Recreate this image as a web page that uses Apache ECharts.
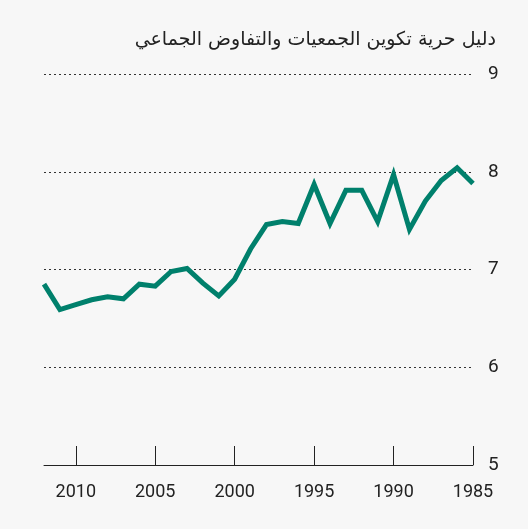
<!DOCTYPE html>
<html>
<head>
<meta charset="utf-8">
<script src="https://cdn.jsdelivr.net/npm/echarts@6/dist/echarts.min.js"></script>
<style>
    html, body { margin: 0; padding: 0; background: #f7f7f7; }
    #chart { width: 528px; height: 529px; }
</style>
</head>
<body>
<div id="chart"></div>
<script>
// years run from 2012 back to 1985 (axis is reversed)
const years = [2012, 2011, 2010, 2009, 2008, 2007, 2006, 2005, 2004, 2003, 2002, 2001, 2000, 1999,
    1998, 1997, 1996, 1995, 1994, 1993, 1992, 1991, 1990, 1989, 1988, 1987, 1986, 1985]
const indexValues = [6.85, 6.59, 6.64, 6.69, 6.72, 6.70, 6.85, 6.83, 6.98, 7.01, 6.86, 6.73, 6.90, 7.21,
    7.46, 7.49, 7.47, 7.87, 7.47, 7.81, 7.81, 7.49, 7.97, 7.41, 7.70, 7.91, 8.04, 7.88]
const yearTicks = [1985, 1990, 1995, 2000, 2005, 2010]
const titleText = 'دليل حرية تكوين الجمعيات والتفاوض الجماعي'

const chart = echarts.init(document.getElementById('chart'))

const labelFont = '"Liberation Sans Narrow", Roboto, sans-serif'

chart.setOption({
    backgroundColor: '#f7f7f7',
    animation: false,
    title: {
        text: titleText,
        right: 27,
        top: 26,
        textStyle: {
            fontFamily: '"DejaVu Sans", "Noto Sans", sans-serif',
            fontSize: 19,
            fontWeight: 'normal',
            color: '#222'
        }
    },
    grid: {
        left: 44,
        right: 55,
        top: 74,
        bottom: 64
    },
    xAxis: {
        type: 'value',
        inverse: true,
        min: 1985,
        max: 2012,
        interval: 5,
        axisLine: { show: true, lineStyle: { color: '#222', width: 1 } },
        axisTick: {
            show: true,
            inside: true,
            length: 19,
            customValues: yearTicks,
            lineStyle: { color: '#222', width: 1 }
        },
        axisLabel: {
            customValues: yearTicks,
            formatter: (v) => String(v),
            margin: 18,
            fontFamily: labelFont,
            fontSize: 18,
            color: '#222'
        },
        splitLine: { show: false }
    },
    yAxis: {
        type: 'value',
        position: 'right',
        min: 5,
        max: 9,
        interval: 1,
        axisLine: { show: false },
        axisTick: { show: false },
        axisLabel: {
            margin: 15,
            fontFamily: labelFont,
            fontSize: 19,
            color: '#222'
        },
        splitLine: {
            lineStyle: { type: [2, 3], color: '#333', width: 1 }
        }
    },
    series: [
        {
            type: 'line',
            data: years.map((y, i) => [y, indexValues[i]]),
            showSymbol: false,
            lineStyle: { width: 5, color: '#00806c', join: 'miter' },
            z: 3
        }
    ]
})
</script>
</body>
</html>
